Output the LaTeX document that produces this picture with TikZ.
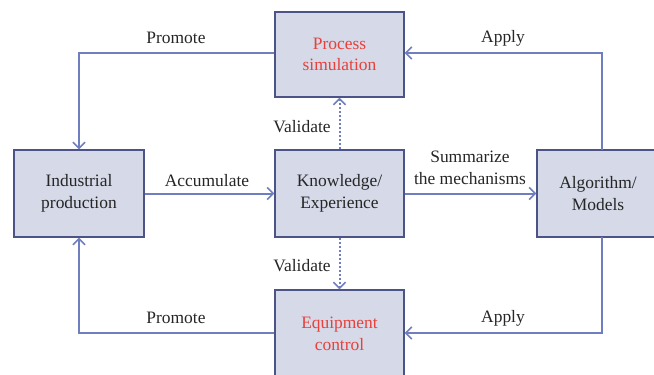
\documentclass[tikz,border=0pt]{standalone}
\usepackage{fontspec}
\setmainfont{Liberation Serif}
\usetikzlibrary{arrows.meta}
\definecolor{boxfill}{HTML}{D5D9E8}
\definecolor{boxline}{HTML}{4B5387}
\definecolor{flow}{HTML}{6F7EBF}
\definecolor{hot}{HTML}{E8403A}
\definecolor{ink}{HTML}{262626}
\tikzset{
  blockbox/.style={draw=boxline, fill=boxfill, line width=1.4bp, align=center,
    font=\fontsize{17.5}{21.5}\selectfont, text=ink, inner sep=0pt},
  flowline/.style={draw=flow, line width=2bp,
    -{Straight Barb[length=6bp,width=12bp,line width=1.6bp]}},
  checkline/.style={flowline, dash pattern=on 2bp off 2bp},
  tag/.style={font=\fontsize{17.5}{21.5}\selectfont, text=ink, align=center, inner sep=0pt}
}
\begin{document}
\begin{tikzpicture}[x=1bp, y=-1bp]
\useasboundingbox (0,0) rectangle (654,374);

% blocks
\node[blockbox, minimum width=129bp, minimum height=85bp, text=hot] (sim) at (339.5,54.5) {Process\\simulation};
\node[blockbox, minimum width=130bp, minimum height=87bp] (ind) at (79,193.5) {Industrial\\production};
\node[blockbox, minimum width=129bp, minimum height=87bp] (know) at (339.5,193.5) {Knowledge/\\Experience};
\node[blockbox, minimum width=125bp, minimum height=87bp] (alg) at (599.5,193.5) {};
\node[tag] (algtext) at (598,193.5) {Algorithm/\\Models};
\node[blockbox, minimum width=129bp, minimum height=88bp, text=hot] (equ) at (339.5,334) {Equipment\\control};

% corner points of the loops
\coordinate (tl) at (79,53);
\coordinate (tr) at (602,53);
\coordinate (bl) at (79,333);
\coordinate (br) at (602,333);
\coordinate (algtop) at (602,150);
\coordinate (algbot) at (602,237);

% connectors
\draw[flowline] (sim.west |- tl) -- (tl) -- (ind.north);
\draw[flowline] (algtop) -- (tr) -- (sim.east |- tr);
\draw[flowline] (ind.east) -- (know.west);
\draw[flowline] (know.east) -- (alg.west);
\draw[flowline] (algbot) -- (br) -- (equ.east |- br);
\draw[flowline] (equ.west |- bl) -- (bl) -- (ind.south);
\draw[checkline] (know.north) -- (sim.south);
\draw[checkline] (know.south) -- (equ.north);

% labels
\node[tag] (l1) at (176,38) {Promote};
\node[tag] (l2) at (503,38) {Apply};
\node[tag] (l3) at (302,127) {Validate};
\node[tag] (l4) at (207,181) {Accumulate};
\node[tag] (l5) at (470,168) {Summarize\\the mechanisms};
\node[tag] (l6) at (302,266) {Validate};
\node[tag] (l7) at (176,318) {Promote};
\node[tag] (l8) at (503,318) {Apply};
\end{tikzpicture}
\end{document}
